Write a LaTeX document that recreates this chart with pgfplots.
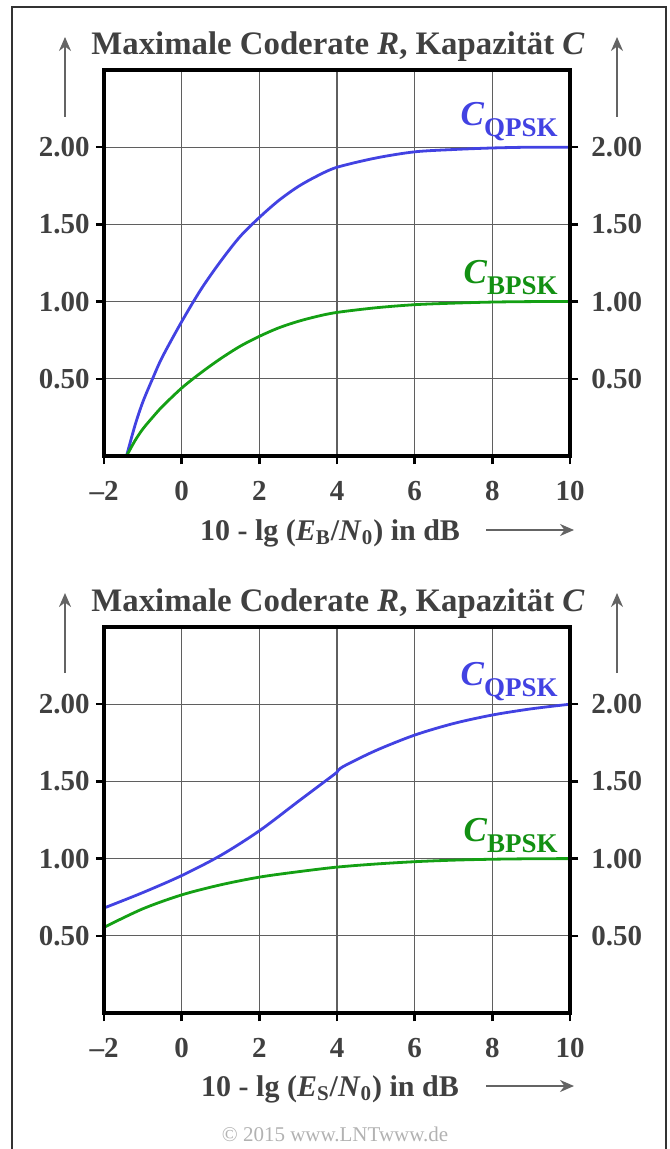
\documentclass[border=0pt]{standalone}
\usepackage{fontspec}
\setmainfont{Liberation Serif}
\usepackage{pgfplots}
\pgfplotsset{compat=1.18}
\usetikzlibrary{arrows.meta}

\definecolor{txt}{RGB}{64,64,64}
\definecolor{qpsk}{RGB}{66,66,226}
\definecolor{bpsk}{RGB}{20,160,20}
\definecolor{grd}{RGB}{95,95,95}
\definecolor{arr}{RGB}{100,100,100}

\newcommand{\Cl}[1]{{\fontsize{17.5}{17}\selectfont\bfseries\itshape C}\raisebox{-5.5pt}{\fontsize{13.5}{14}\selectfont\bfseries #1}}

\pgfplotsset{
  capbox/.style={
    scale only axis, width=233pt, height=193pt,
    xmin=-2, xmax=10, ymin=0, ymax=2.5,
    xtick={-2,0,2,4,6,8,10},
    xticklabels={\textendash2,0,2,4,6,8,10},
    ytick={0.5,1,1.5,2},
    yticklabels={0.50,1.00,1.50,2.00},
    xtick pos=lower, ytick pos=both,
    axis line style={line width=1.6pt},
    tick style={line width=1.2pt, black},
    major tick length=4pt, tick align=outside,
    grid style={grd, line width=0.6pt},
    ticklabel style={font=\fontsize{14.5}{15}\selectfont\bfseries, text=txt},
    xticklabel style={anchor=north, inner sep=0pt, yshift=-8.5pt},
  },
}

\begin{document}
\begin{tikzpicture}
\useasboundingbox (0,0) rectangle (334.5pt,-574.5pt);
\draw[line width=1pt, black!80] (5.85pt,-576pt) -- (5.85pt,-3.35pt) -- (333pt,-3.35pt) -- (333pt,-576pt);

% ---------- upper panel: over Eb/N0 ----------
\begin{axis}[capbox, at={(52pt,-228pt)}, anchor=south west,
  xmajorgrids, ymajorgrids, yticklabel pos=left,
  yticklabel style={anchor=east, inner sep=0pt, xshift=-3pt}]
\addplot[qpsk, line width=1.4pt, smooth] coordinates {
  (-1.42,0) (-1.2,0.2) (-1.0,0.35) (-0.75,0.5) (-0.5,0.64) (0,0.87)
  (0.5,1.08) (1,1.26) (1.5,1.42) (2,1.545) (2.5,1.655) (3,1.745)
  (3.5,1.815) (4,1.87) (5,1.93) (6,1.97) (7,1.985) (8,1.995) (9,2.0) (10,2.0)
};
\addplot[bpsk, line width=1.4pt, smooth] coordinates {
  (-1.42,0) (-1.2,0.1) (-1.0,0.175) (-0.75,0.25) (-0.5,0.32) (0,0.44)
  (0.5,0.54) (1,0.63) (1.5,0.71) (2,0.775) (2.5,0.83) (3,0.872)
  (3.5,0.905) (4,0.93) (5,0.96) (6,0.98) (7,0.99) (8,0.997) (9,1.0) (10,1.0)
};
\node[anchor=base east, inner sep=0pt, text=qpsk] at (axis cs:9.69,2.14) {\Cl{QPSK}};
\node[anchor=base east, inner sep=0pt, text=bpsk!90!black] at (axis cs:9.69,1.12) {\Cl{BPSK}};
\end{axis}
\begin{axis}[capbox, at={(52pt,-228pt)}, anchor=south west,
  yticklabel pos=right, xticklabels={},
  yticklabel style={anchor=west, inner sep=0pt, xshift=6.5pt}]
\end{axis}

% ---------- lower panel: over Es/N0 ----------
\begin{axis}[capbox, at={(52pt,-506.5pt)}, anchor=south west,
  xmajorgrids, ymajorgrids, yticklabel pos=left,
  yticklabel style={anchor=east, inner sep=0pt, xshift=-3pt}]
\addplot[qpsk, line width=1.4pt, smooth] coordinates {
  (-2,0.68) (-1,0.78) (0,0.89) (1,1.02) (2,1.18) (3,1.37) (3.9,1.54)
  (4,1.56) (4.15,1.595) (5,1.70) (6,1.80) (7,1.875) (8,1.93) (9,1.97) (10,2.0)
};
\addplot[bpsk, line width=1.4pt, smooth] coordinates {
  (-2,0.555) (-1,0.675) (0,0.765) (1,0.83) (2,0.88) (3,0.915) (4,0.945)
  (5,0.965) (6,0.98) (7,0.99) (8,0.996) (9,0.999) (10,1.0)
};
\node[anchor=base east, inner sep=0pt, text=qpsk] at (axis cs:9.69,2.12) {\Cl{QPSK}};
\node[anchor=base east, inner sep=0pt, text=bpsk!90!black] at (axis cs:9.69,1.11) {\Cl{BPSK}};
\end{axis}
\begin{axis}[capbox, at={(52pt,-506.5pt)}, anchor=south west,
  yticklabel pos=right, xticklabels={},
  yticklabel style={anchor=west, inner sep=0pt, xshift=6.5pt}]
\end{axis}

% ---------- titles, axis captions, arrows ----------
\foreach \dy/\sub in {0pt/B, -278pt/S} {
  \begin{scope}[yshift=\dy]
    \node[anchor=base, text=txt, font=\fontsize{16.4}{17}\selectfont\bfseries]
      at (169pt,-27.5pt) {Maximale Coderate \textit{R}, Kapazität \textit{C}};
    \draw[arr, line width=1pt, -{Stealth[length=7pt,width=6pt]}] (32.5pt,-58.5pt) -- (32.5pt,-18.5pt);
    \draw[arr, line width=1pt, -{Stealth[length=7pt,width=6pt]}] (308.5pt,-58.5pt) -- (308.5pt,-18.5pt);
    \node[anchor=base, text=txt, font=\fontsize{15}{16}\selectfont\bfseries]
      at (165pt,-270pt) {10 - lg (\textit{E}\textsubscript{\sub}/\textit{N}\textsubscript{0}) in dB};
    \draw[arr, line width=1pt, -{Stealth[length=7pt,width=6pt]}] (243pt,-265pt) -- (287pt,-265pt);
  \end{scope}
}
\node[anchor=base, text=black!30, font=\fontsize{10.5}{11}\selectfont] at (167.5pt,-570.5pt) {\textcopyright\ 2015 www.LNTwww.de};
\end{tikzpicture}
\end{document}
